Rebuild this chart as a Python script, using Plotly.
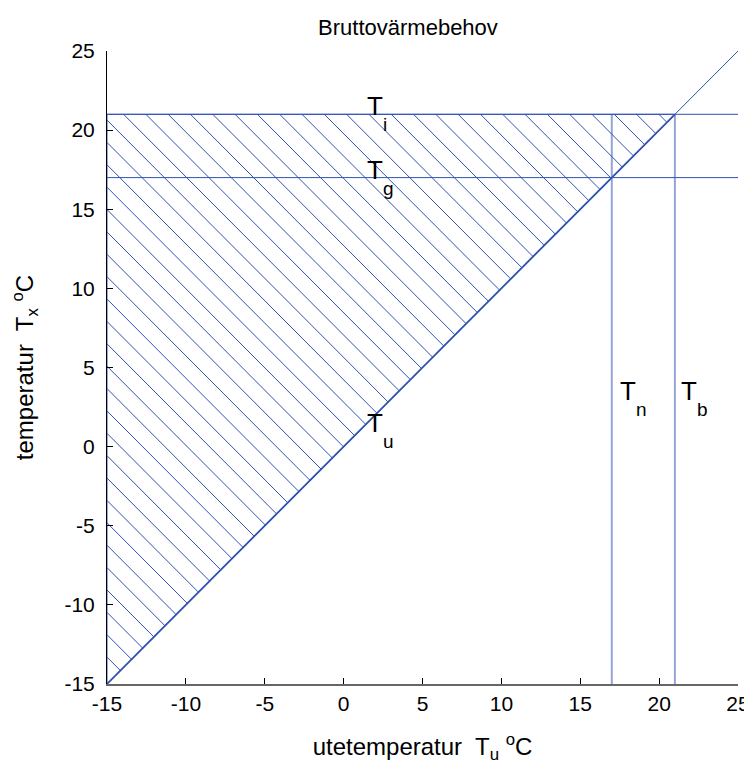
import plotly.graph_objects as go

# ---- data ----
x_range = [-15, 25]
y_range = [-15, 25]
tick_vals = [-15, -10, -5, 0, 5, 10, 15, 20, 25]
tick_text = ["-15", "-10", "-5", "0", "5", "10", "15", "20", "25"]
T_i = 21          # indoor temperature
T_g = 17          # balance temperature
T_n = 17          # vertical marker
T_b = 21          # vertical marker
diag_x = [-15, 25]
diag_y = [-15, 25]
label_base = ["T", "T", "T", "T", "T"]
label_sub = ["i", "g", "u", "n", "b"]
label_x = [1.5, 1.5, 1.5, 17.5, 21.4]
label_y = [21, 17, 1, 3, 3]

BLUE = "rgb(50,82,178)"
LIGHTBLUE = "rgba(60,90,180,0.55)"
FONT = "Liberation Sans, Arial, sans-serif"

fig = go.Figure()

# hatch lines (x + y = c) clipped to triangle x>=-15, y<=T_i, y>=x
hatch_step = 1.414
hx, hy = [], []
c = -28.3
while c < 2 * T_i:
    if c + 15 <= T_i:
        x0, y0 = -15, c + 15
    else:
        x0, y0 = c - T_i, T_i
    x1, y1 = c / 2, c / 2
    hx += [x0, x1, None]
    hy += [y0, y1, None]
    c += hatch_step
fig.add_trace(go.Scatter(x=hx, y=hy, mode="lines",
                         line=dict(color=BLUE, width=1), hoverinfo="skip"))

# triangle outline
fig.add_trace(go.Scatter(x=[-15, -15, T_i, -15], y=[-15, T_i, T_i, -15], mode="lines",
                         line=dict(color=BLUE, width=1), hoverinfo="skip"))
fig.add_trace(go.Scatter(x=[-15, T_i], y=[-15, T_i], mode="lines",
                         line=dict(color=BLUE, width=1.8), hoverinfo="skip"))

# full diagonal
fig.add_trace(go.Scatter(x=diag_x, y=diag_y, mode="lines",
                         line=dict(color=BLUE, width=1), hoverinfo="skip"))

# horizontal lines
for yv in [T_i, T_g]:
    fig.add_trace(go.Scatter(x=x_range, y=[yv, yv], mode="lines",
                             line=dict(color=BLUE, width=1), hoverinfo="skip"))
# vertical lines
for xv in [T_n, T_b]:
    fig.add_trace(go.Scatter(x=[xv, xv], y=[y_range[0], T_i], mode="lines",
                             line=dict(color=LIGHTBLUE, width=2), hoverinfo="skip"))

# labels: base letter with baseline at the reference value, subscript below-right
for base, sub, lx, ly in zip(label_base, label_sub, label_x, label_y):
    fig.add_annotation(x=lx, y=ly, text=base, showarrow=False,
                       xanchor="left", yanchor="bottom", xshift=-2, yshift=-9,
                       font=dict(family=FONT, size=26, color="black"))
    fig.add_annotation(x=lx, y=ly, text=sub, showarrow=False,
                       xanchor="left", yanchor="top", xshift=14, yshift=2,
                       font=dict(family=FONT, size=19, color="black"))

# page body has an 8px default margin, so the figure is sized 8px smaller
fig.update_layout(
    width=744, height=756,
    margin=dict(l=99, r=14, t=43, b=80),
    paper_bgcolor="white", plot_bgcolor="white",
    showlegend=False,
    font=dict(family=FONT, size=21, color="black"),
    title=dict(text="Bruttovärmebehov", x=0.5376, xanchor="center", y=0.984, yanchor="top",
               font=dict(family=FONT, size=22, color="black")),
)
fig.update_xaxes(range=x_range, tickvals=tick_vals, ticktext=tick_text, ticks="inside", ticklen=6,
                 tickcolor="black", showline=True, linecolor="#666666", linewidth=1.5,
                 mirror=False, showgrid=False, zeroline=False, automargin=False,
                 ticklabeloverflow="allow",
                 tickfont=dict(family=FONT, size=21, color="black"),
                 title=dict(text="utetemperatur  T<sub>u</sub> <sup>o</sup>C", standoff=27,
                            font=dict(family=FONT, size=24, color="black")))
fig.update_yaxes(range=y_range, tickvals=tick_vals, ticktext=tick_text, ticks="inside", ticklen=6,
                 tickcolor="black", showline=True, linecolor="black", linewidth=1,
                 mirror=False, showgrid=False, zeroline=False, automargin=False,
                 ticklabelstandoff=7,
                 tickfont=dict(family=FONT, size=21, color="black"),
                 title=dict(text="temperatur  T<sub>x</sub> <sup>o</sup>C", standoff=30,
                            font=dict(family=FONT, size=24, color="black")))

fig.write_html("out.html")
